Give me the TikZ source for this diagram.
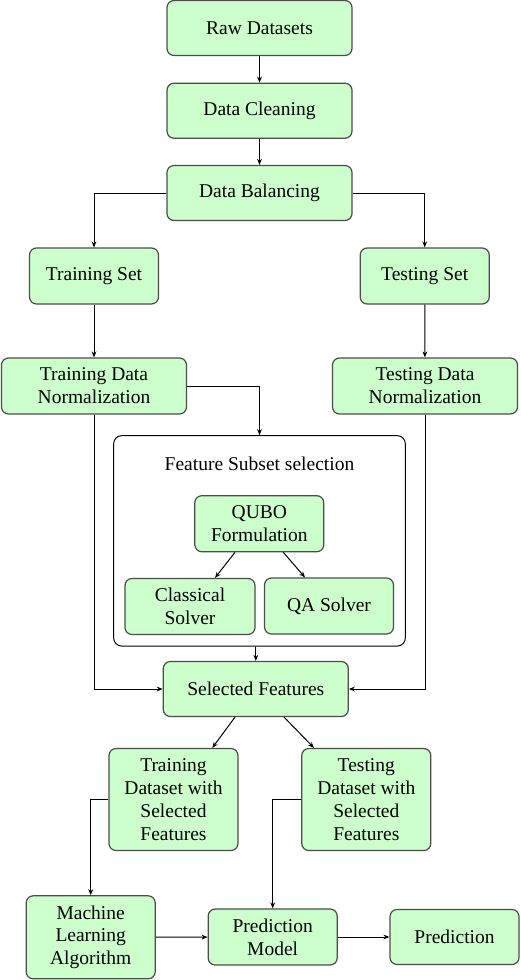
\documentclass[tikz,border=0pt]{standalone}
\usepackage{fontspec}
\setmainfont{Liberation Serif}
\usetikzlibrary{arrows.meta,calc}
\begin{document}
\begin{tikzpicture}[x=0.5pt,y=-0.5pt,
  box/.style={draw=black!70, fill=green!20, rounded corners=3.5pt, align=center,
    inner sep=0pt, line width=0.6pt, font=\fontsize{9.75}{11.4}\selectfont},
  wide/.style={minimum width=92.5pt, minimum height=27.5pt},
  narrow/.style={minimum width=64.5pt, minimum height=28pt},
  arr/.style={line width=0.5pt, -{Stealth[length=3pt,width=2.4pt]}},
  lbl/.style={font=\fontsize{9.75}{11.4}\selectfont, inner sep=0pt}]
\useasboundingbox (0,0) rectangle (520,980);
\node[box,wide] (rd) at (259.5,28) {Raw Datasets};
\node[box,wide] (dc) at (259.5,110.7) {Data Cleaning};
\node[box,wide] (db) at (259.5,193) {Data Balancing};
\node[box,narrow] (ts) at (94,276) {Training Set};
\node[box,narrow] (tes) at (424.7,276) {Testing Set};
\node[box,wide,minimum height=28pt] (tdn) at (94,386) {Training Data\\Normalization};
\node[box,wide,minimum height=28pt] (tedn) at (425,386) {Testing Data\\Normalization};
\node[draw=black, line width=0.5pt, rounded corners=4pt, minimum width=145.8pt, minimum height=105.2pt, inner sep=0pt] (fs) at (259.5,540.85) {};
\node[lbl] (fsl) at (259.5,464) {Feature Subset selection};
\node[box,narrow] (qubo) at (259.3,523.7) {QUBO\\Formulation};
\node[box,narrow,minimum width=65pt] (cs) at (190,606.5) {Classical\\Solver};
\node[box,narrow] (qa) at (329,606) {QA Solver};
\node[box,wide] (sf) at (255.8,689) {Selected Features};
\node[box,narrow,minimum height=51pt] (trd) at (173.5,799.5) {Training\\Dataset with\\Selected\\Features};
\node[box,narrow,minimum height=51pt] (ted) at (366.3,799.5) {Testing\\Dataset with\\Selected\\Features};
\node[box,narrow,minimum height=41.5pt] (ml) at (90.7,937.3) {Machine\\Learning\\Algorithm};
\node[box,narrow] (pm) at (272.7,937) {Prediction\\Model};
\node[box,narrow,minimum height=27.5pt] (pr) at (454.5,937) {Prediction};
\draw[arr] (rd) -- (dc);
\draw[arr] (dc) -- (db);
\draw[arr] (db.west) -| (ts.north);
\draw[arr] (db.east) -| (tes.north);
\draw[arr] (ts) -- (tdn);
\draw[arr] (tes) -- (tedn);
\draw[arr] (tdn.east) -| (fs.north);
\draw[arr] ($(qubo.south)+(-24.3,0)$) -- ($(cs.north)+(25,0)$);
\draw[arr] ($(qubo.south)+(24,0)$) -- ($(qa.north)+(-24,0)$);
\draw[arr] (fs.south -| sf.north) -- (sf.north);
\draw[arr] (tdn.south) |- (sf.west);
\draw[arr] (tedn.south) |- (sf.east);
\draw[arr] ($(sf.south)+(-20.8,0)$) -- ($(trd.north)+(38.8,0)$);
\draw[arr] ($(sf.south)+(28.2,0)$) -- ($(ted.north)+(-52.3,0)$);
\draw[arr] (trd.west) -| (ml.north);
\draw[arr] (ted.west) -| (pm.north);
\draw[arr] (ml) -- (pm);
\draw[arr] (pm) -- (pr);
\end{tikzpicture}
\end{document}
